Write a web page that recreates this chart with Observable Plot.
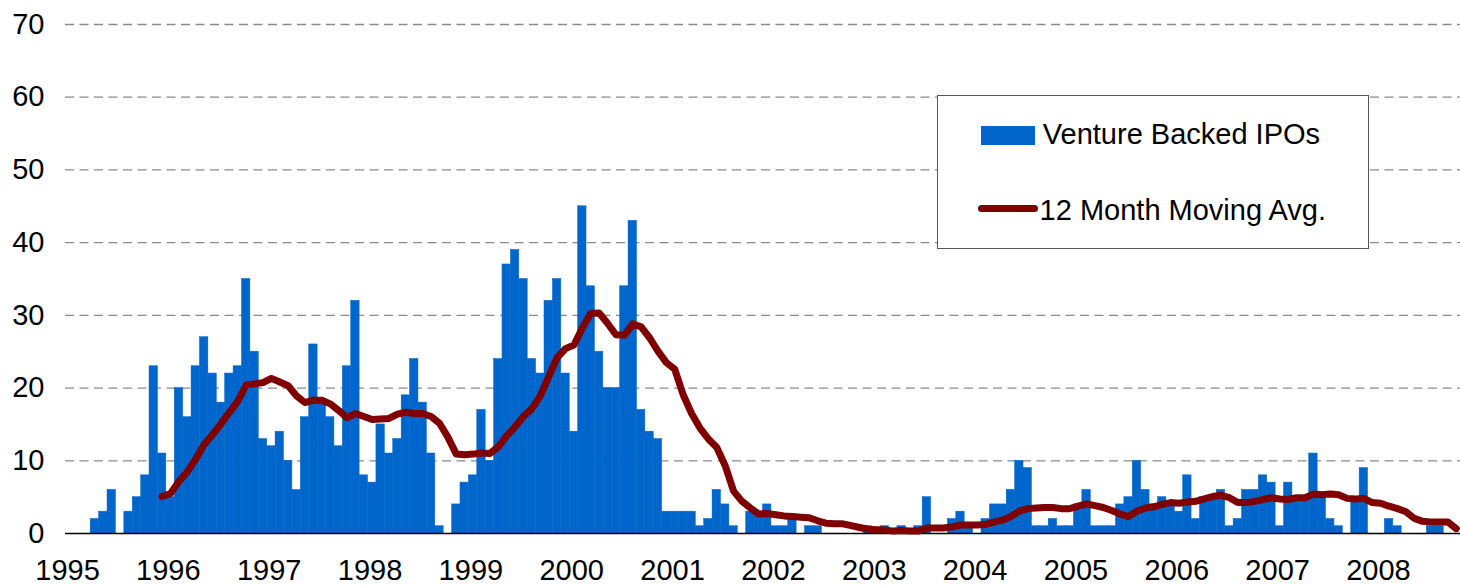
<!DOCTYPE html>
<html>
<head>
<meta charset="utf-8">
<script src="https://cdn.jsdelivr.net/npm/d3@7"></script>
<script src="https://cdn.jsdelivr.net/npm/@observablehq/plot@0.6"></script>
<style>
  html, body { margin: 0; padding: 0; background: #fff; }
  #wrap { position: relative; width: 1460px; height: 586px; font-family: "Liberation Sans", Arial, sans-serif; }
  .legend { position: absolute; left: 937px; top: 95px; width: 432px; height: 154px; box-sizing: border-box;
            border: 1.5px solid #555; background: #fff; }
  .legend .sw { position: absolute; left: 43px; top: 29.5px; width: 54px; height: 19px; background: #0066CC; }
  .legend .ln { position: absolute; left: 39.5px; top: 108.5px; width: 60px; height: 7px; border-radius: 3.5px; background: #800000; }
  .legend .tx { position: absolute; font-size: 29px; line-height: 29px; color: #000; white-space: nowrap; }
</style>
</head>
<body>
<div id="wrap"></div>
<script>
// Monthly venture-backed IPO counts, Jan 1995 .. Oct 2008
const startYear = 1995;
const ipo1995 = [0,0,0,2,3,6,0,3,5,8,23,11];
const ipo1996 = [5,20,16,23,27,22,18,22,23,35,25,13];
const ipo1997 = [12,14,10,6,16,26,18,16,12,23,32,8];
const ipo1998 = [7,15,11,13,19,24,18,11,1,0,4,7];
const ipo1999 = [8,17,10,24,37,39,35,24,22,32,35,22];
const ipo2000 = [14,45,34,25,20,20,34,43,17,14,13,3];
const ipo2001 = [3,3,3,1,2,6,4,1,0,3,3,4];
const ipo2002 = [1,1,2,0,1,1,0,0,0,0,0,1];
const ipo2003 = [0,1,0,1,0,1,5,0,0,2,3,1];
const ipo2004 = [0,2,4,4,6,10,9,1,1,2,1,1];
const ipo2005 = [4,6,1,1,1,4,5,10,6,4,5,4];
const ipo2006 = [3,8,2,5,5,6,1,2,6,6,8,7];
const ipo2007 = [1,7,5,5,11,5,2,1,0,5,9,0];
const ipo2008 = [0,2,1,0,0,0,1,1,0,0];

// 12 month moving average: Dec 1995 .. Oct 2008
const maFirstMonth = 11; // Dec 1995 (months counted from Jan 1995)
const movingAvg = [
  5.08,
  5.5, 7.17, 8.5, 10.25, 12.25, 13.58, 15.08, 16.67, 18.17, 20.42, 20.58, 20.75,
  21.33, 20.83, 20.33, 18.92, 18.0, 18.33, 18.33, 17.83, 16.92, 15.92, 16.5, 16.08,
  15.67, 15.75, 15.83, 16.42, 16.67, 16.5, 16.5, 16.08, 15.17, 13.25, 10.92, 10.83,
  10.92, 11.08, 11.0, 11.92, 13.42, 14.67, 16.08, 17.17, 18.92, 21.58, 24.17, 25.42,
  25.92, 28.25, 30.25, 30.33, 28.92, 27.33, 27.25, 28.83, 28.42, 26.92, 25.08, 23.5,
  22.58, 19.08, 16.5, 14.5, 13.0, 11.83, 9.33, 5.83, 4.42, 3.5, 2.67, 2.75,
  2.58, 2.42, 2.33, 2.25, 2.17, 1.75, 1.42, 1.33, 1.33, 1.08, 0.83, 0.58,
  0.5, 0.5, 0.33, 0.42, 0.33, 0.33, 0.75, 0.75, 0.75, 0.92, 1.17, 1.17,
  1.17, 1.25, 1.58, 1.83, 2.33, 3.08, 3.42, 3.5, 3.58, 3.58, 3.42, 3.42,
  3.75, 4.08, 3.83, 3.58, 3.17, 2.67, 2.33, 3.08, 3.5, 3.67, 4.0, 4.25,
  4.17, 4.33, 4.42, 4.75, 5.08, 5.25, 4.92, 4.25, 4.25, 4.42, 4.67, 4.92,
  4.75, 4.67, 4.92, 4.92, 5.42, 5.33, 5.42, 5.33, 4.83, 4.75, 4.83, 4.25,
  4.17, 3.75, 3.42, 3.0, 2.08, 1.67, 1.58, 1.58, 1.58, 0.67
];

const yearLabels = ["1995","1996","1997","1998","1999","2000","2001","2002","2003","2004","2005","2006","2007","2008"];
const yTicks = [0,10,20,30,40,50,60,70];
const seriesNames = ["Venture Backed IPOs", "12 Month Moving Avg."];

// build tables
const ipoCounts = [].concat(ipo1995, ipo1996, ipo1997, ipo1998, ipo1999, ipo2000, ipo2001,
  ipo2002, ipo2003, ipo2004, ipo2005, ipo2006, ipo2007, ipo2008);
const nMonths = ipoCounts.length;
const bars = ipoCounts.map((v, i) => ({m: i, v})).filter(d => d.v > 0);
const ma = movingAvg.map((v, i) => ({m: maFirstMonth + i + 0.5, v}));
const yearTickPos = yearLabels.map((_, i) => i * 12);

const chart = Plot.plot({
  width: 1460,
  height: 586,
  marginLeft: 65,
  marginRight: 0,
  marginTop: 24,
  marginBottom: 53,
  x: {domain: [0, nMonths], axis: null, label: null},
  y: {domain: [0, 70], axis: null, label: null},
  style: {fontFamily: '"Liberation Sans", Arial, sans-serif', fontSize: "29px", color: "#000", background: "#fff", overflow: "visible"},
  marks: [
    Plot.gridY(yTicks.filter(t => t > 0), {stroke: "#8a8a8a", strokeOpacity: 1, strokeWidth: 1.3, strokeDasharray: "9,5.5"}),
    Plot.rectY(bars, {x1: "m", x2: d => d.m + 1, y: "v", fill: "#0066CC", stroke: "#0066CC", strokeWidth: 0.5}),
    Plot.ruleY([0], {stroke: "#000", strokeWidth: 1.3}),
    Plot.line(ma, {x: "m", y: "v", stroke: "#800000", strokeWidth: 7, strokeLinejoin: "round", strokeLinecap: "round"}),
    Plot.axisY(yTicks, {label: null, tickSize: 0, tickPadding: 21, fontSize: 29, tickFormat: d => String(d)}),
    Plot.axisX(yearTickPos, {label: null, tickSize: 0, tickPadding: 26, fontSize: 29, dx: 2, tickFormat: p => yearLabels[p / 12]})
  ]
});

const wrap = document.getElementById("wrap");
wrap.appendChild(chart);

const legend = document.createElement("div");
legend.className = "legend";
legend.innerHTML =
  '<div class="sw"></div>' +
  '<div class="tx" style="left:104.8px; top:24px;">' + seriesNames[0] + '</div>' +
  '<div class="ln"></div>' +
  '<div class="tx" style="left:101.6px; top:99.7px;">' + seriesNames[1] + '</div>';
wrap.appendChild(legend);
</script>
</body>
</html>
